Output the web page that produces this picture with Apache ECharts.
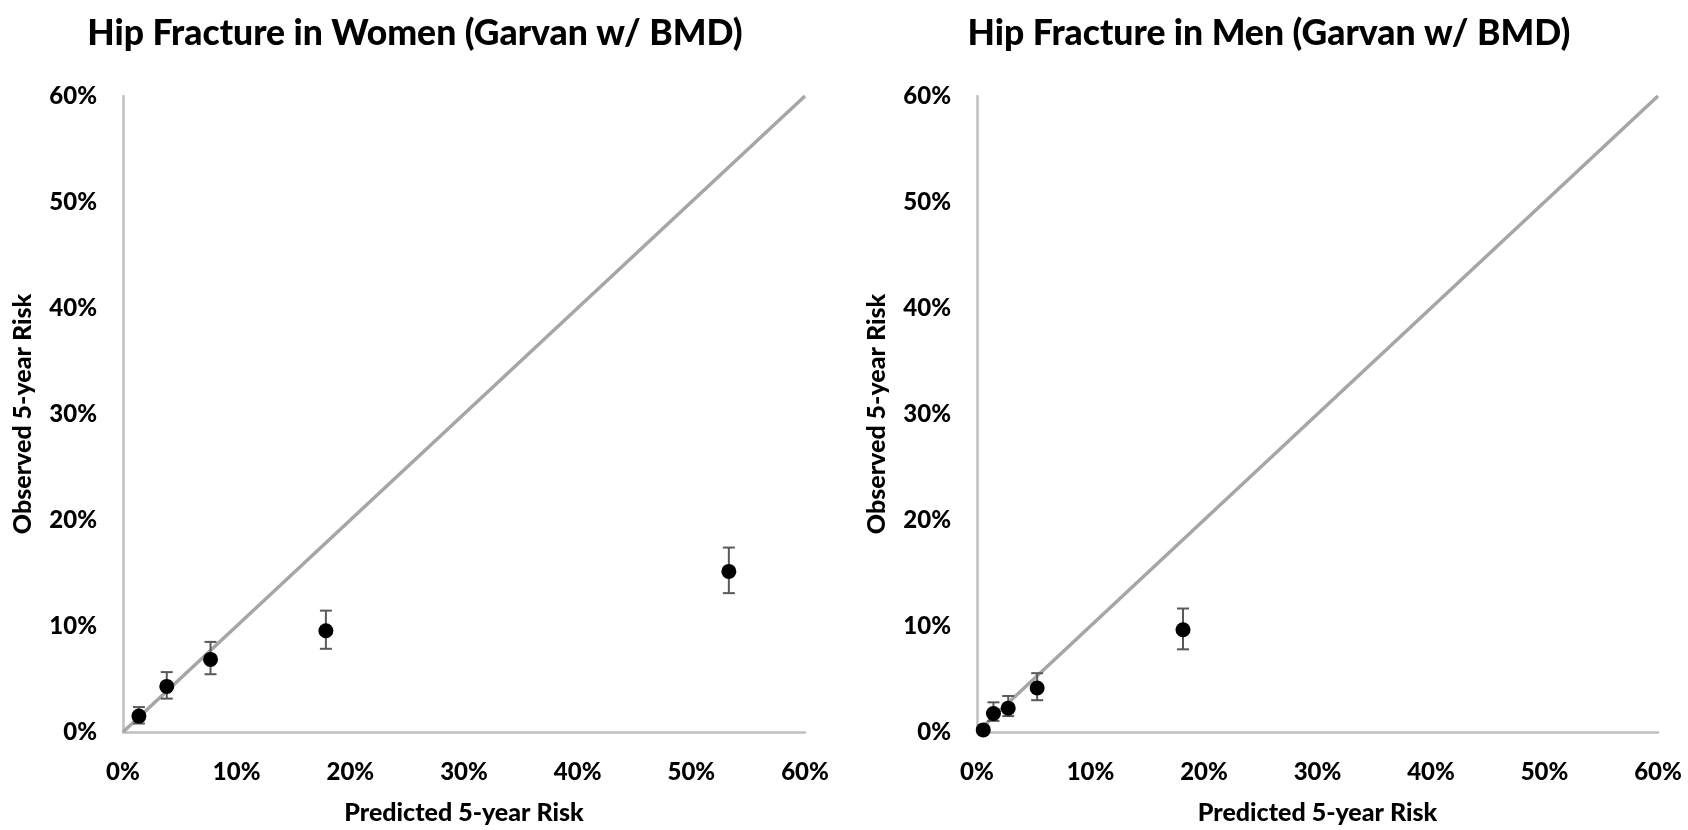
<!DOCTYPE html>
<html>
<head>
<meta charset="utf-8">
<script src="https://cdn.jsdelivr.net/npm/echarts@6/dist/echarts.min.js"></script>
<style>
  html, body { margin: 0; padding: 0; background: #fff; }
  #chart { width: 1688px; height: 830px; }
</style>
</head>
<body>
<div id="chart"></div>
<script>
// women (Garvan w/ BMD), values in %
const womenPredicted = [1.4, 3.85, 7.7, 17.85, 53.3]
const womenObserved = [1.5, 4.3, 6.85, 9.55, 15.15]
const womenLower = [0.8, 3.15, 5.45, 7.85, 13.1]
const womenUpper = [2.35, 5.65, 8.5, 11.45, 17.4]

// men
const menPredicted = [0.55, 1.45, 2.75, 5.3, 18.15]
const menObserved = [0.2, 1.75, 2.25, 4.15, 9.65]
const menLower = [0.0, 1.05, 1.5, 3.0, 7.8]
const menUpper = [0.3, 2.8, 3.4, 5.55, 11.65]

const refLine = [[0, 0], [60, 60]]
const titles = ['Hip Fracture in Women (Garvan w/ BMD)', 'Hip Fracture in Men (Garvan w/ BMD)']
const xName = 'Predicted 5-year Risk'
const yName = 'Observed 5-year Risk'

const font = 'Lato, "Open Sans", sans-serif'
const chart = echarts.init(document.getElementById('chart'))

const grids = [
  { left: 123, top: 96, width: 682, height: 639 },
  { left: 977, top: 96, width: 681, height: 639 }
]

function axisBase(name, isY) {
  return {
    type: 'value',
    min: 0,
    max: 60,
    interval: 10,
    name: name,
    nameLocation: 'middle',
    nameGap: isY ? 88 : 68,
    nameTextStyle: { fontFamily: font, fontWeight: 900, fontSize: 25, color: '#000' },
    axisLine: { show: true, onZero: false, lineStyle: { color: '#bfbfbf', width: 2.5 } },
    axisTick: { show: false },
    splitLine: { show: false },
    axisLabel: {
      formatter: '{value}%',
      margin: isY ? 26 : 28,
      fontFamily: font, fontWeight: 900, fontSize: 24, color: '#000'
    }
  }
}

function errorBars(xs, lo, hi, idx) {
  return {
    type: 'custom',
    xAxisIndex: idx,
    yAxisIndex: idx,
    data: xs.map((x, i) => [x, lo[i], hi[i]]),
    z: 3,
    renderItem: function (params, api) {
      const a = api.coord([api.value(0), api.value(1)])
      const b = api.coord([api.value(0), api.value(2)])
      const w = 6
      const style = { stroke: '#595959', lineWidth: 2 }
      return {
        type: 'group',
        children: [
          { type: 'line', shape: { x1: a[0], y1: a[1], x2: b[0], y2: b[1] }, style: style },
          { type: 'line', shape: { x1: a[0] - w, y1: a[1], x2: a[0] + w, y2: a[1] }, style: style },
          { type: 'line', shape: { x1: b[0] - w, y1: b[1], x2: b[0] + w, y2: b[1] }, style: style }
        ]
      }
    }
  }
}

function diag(idx) {
  return {
    type: 'line',
    xAxisIndex: idx,
    yAxisIndex: idx,
    data: refLine,
    showSymbol: false,
    silent: true,
    z: 2,
    lineStyle: { color: '#a6a6a6', width: 3.5 }
  }
}

function points(xs, ys, idx) {
  return {
    type: 'scatter',
    xAxisIndex: idx,
    yAxisIndex: idx,
    data: xs.map((x, i) => [x, ys[i]]),
    symbol: 'circle',
    symbolSize: 15,
    z: 4,
    itemStyle: { color: '#000', opacity: 1 }
  }
}

const option = {
  animation: false,
  backgroundColor: '#fff',
  title: [
    { text: titles[0], left: 410, top: 11, textAlign: 'center',
      textStyle: { fontFamily: font, fontWeight: 900, fontSize: 35.5, color: '#000' } },
    { text: titles[1], left: 1264, top: 11, textAlign: 'center',
      textStyle: { fontFamily: font, fontWeight: 900, fontSize: 35.5, color: '#000' } }
  ],
  grid: grids,
  xAxis: [
    Object.assign(axisBase(xName, false), { gridIndex: 0 }),
    Object.assign(axisBase(xName, false), { gridIndex: 1 })
  ],
  yAxis: [
    Object.assign(axisBase(yName, true), { gridIndex: 0 }),
    Object.assign(axisBase(yName, true), { gridIndex: 1 })
  ],
  series: [
    diag(0),
    errorBars(womenPredicted, womenLower, womenUpper, 0),
    points(womenPredicted, womenObserved, 0),
    diag(1),
    errorBars(menPredicted, menLower, menUpper, 1),
    points(menPredicted, menObserved, 1)
  ]
}
chart.setOption(option)
</script>
</body>
</html>
